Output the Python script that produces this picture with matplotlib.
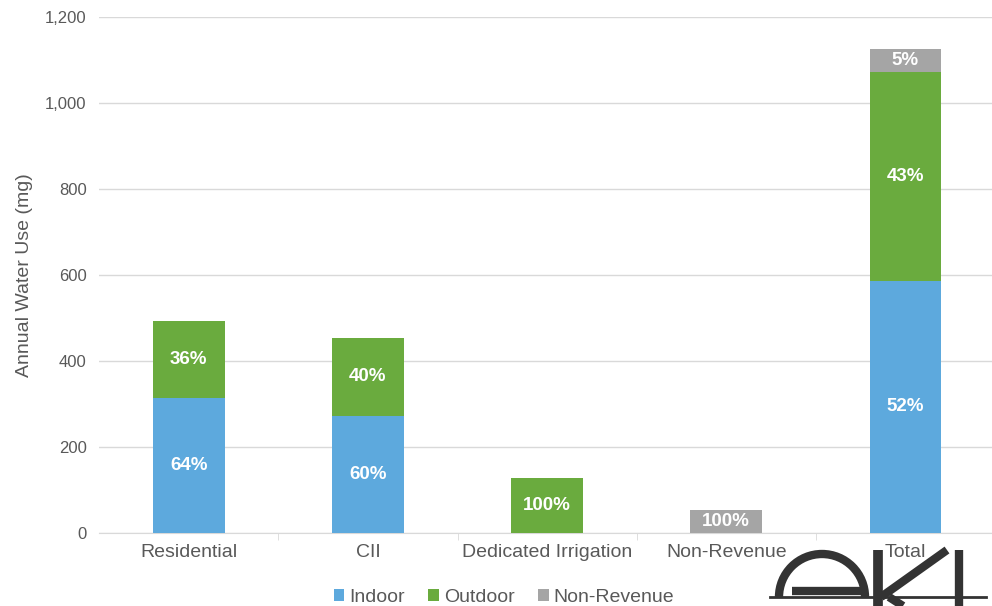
import matplotlib
matplotlib.use("Agg")
import matplotlib.pyplot as plt
from matplotlib.patches import Arc
import numpy as np

categories = ["Residential", "CII", "Dedicated Irrigation", "Non-Revenue", "Total"]
indoor = [315, 272, 0, 0, 587]
outdoor = [177, 182, 127, 0, 486]
non_revenue = [0, 0, 0, 53, 53]
series_names = ["Indoor", "Outdoor", "Non-Revenue"]
colors = ["#5DA9DD", "#6AAB3E", "#A5A5A5"]
yticks = [0, 200, 400, 600, 800, 1000, 1200]

plt.rcParams["font.family"] = ["Liberation Sans", "DejaVu Sans"]
txt = "#595959"

fig = plt.figure(figsize=(9.92, 6.06), dpi=100)
ax = fig.add_axes([0.1, 0.1205, 0.903, 0.8515])

x = np.arange(len(categories))
data = [np.array(indoor), np.array(outdoor), np.array(non_revenue)]
totals = data[0] + data[1] + data[2]
bottom = np.zeros(len(categories))
for vals, name, c in zip(data, series_names, colors):
    ax.bar(x, vals, 0.4, bottom=bottom, color=c, label=name, zorder=3)
    for xi, v, b, t in zip(x, vals, bottom, totals):
        if v > 0:
            ax.text(xi, b + v / 2, f"{round(100 * v / t):.0f}%", ha="center", va="center",
                    color="white", fontsize=13.5, fontweight="bold", zorder=4)
    bottom = bottom + vals

ax.set_xlim(-0.5, len(categories) - 0.5)
ax.set_ylim(0, 1200)
ax.set_yticks(yticks)
ax.set_yticklabels([f"{v:,}" for v in yticks])
ax.yaxis.grid(True, color="#D9D9D9", linewidth=1, zorder=0)
ax.set_axisbelow(True)
for s in ["top", "right", "left"]:
    ax.spines[s].set_visible(False)
ax.spines["bottom"].set_color("#D9D9D9")
ax.tick_params(axis="y", length=0, labelsize=12, labelcolor=txt, pad=9)
ax.set_xticks(x)
ax.set_xticklabels(categories)
ax.tick_params(axis="x", length=0, labelsize=14, labelcolor=txt, pad=8)
ax.set_xticks(np.arange(len(categories) - 1) + 0.5, minor=True)
ax.tick_params(axis="x", which="minor", length=5, color="#D9D9D9")
ax.set_ylabel("Annual Water Use (mg)", fontsize=14, color=txt, labelpad=9)

leg = fig.legend(loc="center", bbox_to_anchor=(0.508, 0.014), ncol=3, frameon=False,
                 fontsize=14, handlelength=0.55, handleheight=0.55, handletextpad=0.25,
                 columnspacing=1.2, borderpad=0)
for t in leg.get_texts():
    t.set_color(txt)

# logo in bottom-right corner
lg = fig.add_axes([0, 0, 1, 1], zorder=10)
lg.set_xlim(0, 992)
lg.set_ylim(606, 0)
lg.axis("off")
k = "#333333"
lg.add_patch(Arc((822, 597), 86, 86, theta1=180, theta2=360, lw=6, color=k))
lg.plot([792, 867], [591, 591], color=k, lw=6, solid_capstyle="butt")
lg.plot([878, 878], [550, 606], color=k, lw=7, solid_capstyle="butt")
lg.plot([881, 947], [597, 550], color=k, lw=6, solid_capstyle="butt")
lg.plot([889, 903], [597, 606], color=k, lw=6, solid_capstyle="butt")
lg.plot([959, 959], [550, 606], color=k, lw=6, solid_capstyle="butt")
lg.plot([770, 986], [597, 597], color=k, lw=2)

fig.savefig("out.png", dpi=100)
